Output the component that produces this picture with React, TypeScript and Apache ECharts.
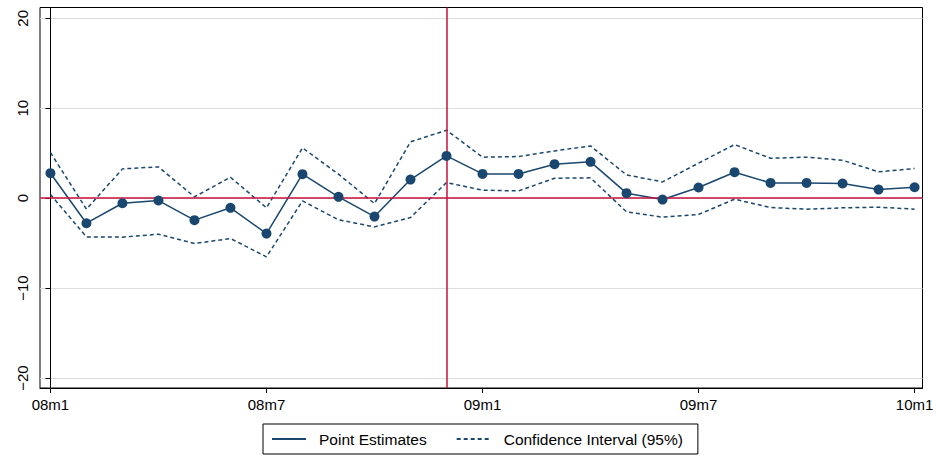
import React, { useEffect, useRef } from "react";
import * as echarts from "echarts";

const months = [
  "08m1", "08m2", "08m3", "08m4", "08m5", "08m6", "08m7", "08m8", "08m9", "08m10", "08m11", "08m12",
  "09m1", "09m2", "09m3", "09m4", "09m5", "09m6", "09m7", "09m8", "09m9", "09m10", "09m11", "09m12",
  "10m1",
];
const pointEstimates = [2.78, -2.78, -0.56, -0.26, -2.44, -1.07, -3.93, 2.67, 0.15, -2.04, 2.07, 4.7, 2.7, 2.7, 3.78, 4.04, 0.56, -0.15, 1.19, 2.89, 1.7, 1.7, 1.63, 0.96, 1.22];
const upperCI = [5.07, -1.22, 3.26, 3.48, 0.15, 2.33, -1.07, 5.6, 2.67, -0.6, 6.26, 7.56, 4.56, 4.63, 5.26, 5.81, 2.59, 1.81, 3.9, 5.96, 4.44, 4.56, 4.22, 2.93, 3.3];
const lowerCI = [0.41, -4.3, -4.33, -4.0, -5.04, -4.48, -6.52, -0.3, -2.4, -3.19, -2.15, 1.74, 0.89, 0.81, 2.22, 2.26, -1.52, -2.11, -1.81, -0.11, -1.04, -1.22, -1.07, -1.0, -1.22];
const xTickMonths = ["08m1", "08m7", "09m1", "09m7", "10m1"];
const yTicks = [-20, -10, 0, 10, 20];
const eventMonth = "08m12";

const NAVY = "#1a476f";
const RED = "#c8103c";
const FONT = "Liberation Sans";

export default function App() {
  const ref = useRef<HTMLDivElement>(null);
  useEffect(() => {
    if (!ref.current) return;
    const chart = echarts.init(ref.current, null, { renderer: "svg" });
    const toXY = (arr: number[]) => arr.map((v, i) => [i, v]);
    const xTickIdx = xTickMonths.map((m) => months.indexOf(m));
    const hiddenMarker = { color: "rgba(0,0,0,0)", borderWidth: 0, opacity: 0 };
    chart.setOption({
      animation: false,
      backgroundColor: "#ffffff",
      grid: {
        left: 40,
        right: 10.5,
        top: 7.5,
        bottom: 68,
        show: true,
        borderColor: "#000",
        borderWidth: 1,
        backgroundColor: "#fff",
        outerBoundsMode: "none",
        containLabel: false,
      },
      xAxis: {
        type: "value",
        min: -0.29,
        max: 24.22,
        axisLine: { show: true, onZero: false, lineStyle: { color: "#000", width: 1 } },
        axisTick: { show: true, length: 5, customValues: xTickIdx, lineStyle: { color: "#000" } },
        axisLabel: {
          customValues: xTickIdx,
          formatter: (v: number) => months[Math.round(v)],
          color: "#000",
          fontSize: 15,
          fontFamily: FONT,
          margin: 9,
        },
        splitLine: { show: false },
      },
      yAxis: {
        type: "value",
        min: -21.1,
        max: 21.2,
        axisLine: { show: true, lineStyle: { color: "#000", width: 1 } },
        axisTick: { show: true, length: 5, customValues: yTicks, lineStyle: { color: "#000" } },
        axisLabel: {
          customValues: yTicks,
          formatter: (v: number) => (v < 0 ? "\u2212" + Math.abs(v) : String(v)),
          rotate: 90,
          color: "#000",
          fontSize: 15,
          fontFamily: FONT,
          margin: 10,
        },
        splitLine: { show: true, lineStyle: { color: "#dddddd", width: 1 } },
      },
      legend: {
        left: 263,
        top: 424,
        orient: "horizontal",
        data: [
          { name: "Point Estimates", itemStyle: hiddenMarker },
          { name: "Confidence Interval (95%)", itemStyle: hiddenMarker },
        ],
        itemWidth: 34,
        itemHeight: 14,
        itemGap: 29,
        padding: [7, 15, 7, 8],
        borderColor: "#000",
        borderWidth: 1,
        borderRadius: 0,
        backgroundColor: "#fff",
        itemStyle: hiddenMarker,
        textStyle: { color: "#000", fontSize: 15.5, fontFamily: FONT, padding: [0, 0, 0, 8] },
      },
      series: [
        {
          name: "Confidence Interval (95%)",
          type: "line",
          data: toXY(upperCI),
          symbol: "none",
          lineStyle: { color: NAVY, width: 1.5, type: [4, 3] },
          itemStyle: { color: NAVY },
          z: 3,
        },
        {
          name: "Confidence Interval (95%)",
          type: "line",
          data: toXY(lowerCI),
          symbol: "none",
          lineStyle: { color: NAVY, width: 1.5, type: [4, 3] },
          itemStyle: { color: NAVY },
          z: 3,
        },
        {
          name: "Reference lines",
          type: "line",
          data: [],
          markLine: {
            silent: true,
            symbol: "none",
            label: { show: false },
            lineStyle: { color: RED, width: 1.5, type: "solid" },
            data: [{ yAxis: 0 }, { xAxis: months.indexOf(eventMonth) }],
          },
          z: 2,
        },
        {
          name: "Point Estimates",
          type: "line",
          data: toXY(pointEstimates),
          symbol: "none",
          lineStyle: { color: NAVY, width: 1.5 },
          itemStyle: { color: NAVY },
          z: 4,
        },
        {
          name: "Point markers",
          type: "scatter",
          data: toXY(pointEstimates),
          symbol: "circle",
          symbolSize: 10,
          itemStyle: { color: NAVY, opacity: 1 },
          z: 5,
        },
      ],
    });
    return () => chart.dispose();
  }, []);
  return (
    <div
      ref={ref}
      style={{ position: "fixed", left: 0, top: 0, width: 933, height: 456, background: "#fff" }}
    />
  );
}
